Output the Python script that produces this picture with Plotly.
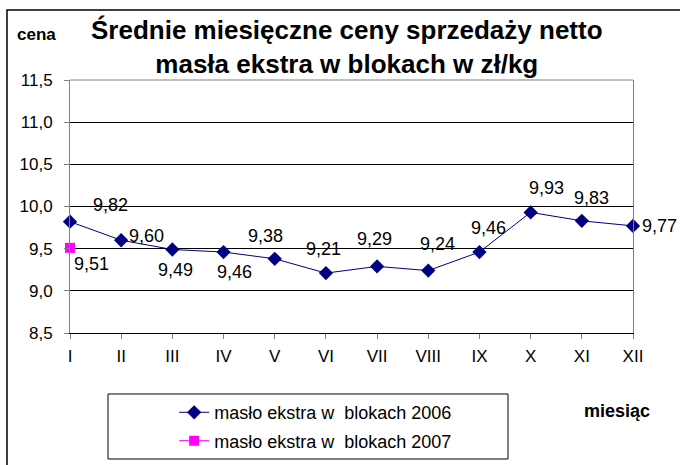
import plotly.graph_objects as go

miesiace = ["I", "II", "III", "IV", "V", "VI", "VII", "VIII", "IX", "X", "XI", "XII"]
ceny_2006 = [9.82, 9.60, 9.49, 9.46, 9.38, 9.21, 9.29, 9.24, 9.46, 9.93, 9.83, 9.77]
miesiace_2007 = ["I"]
ceny_2007 = [9.51]

# przesuniecia etykiet (px) wzgledem punktow
przes_2006 = [(40, 17), (25, 4), (3, -20), (11, -20), (-9, 23), (-2, 24),
              (-3, 27), (9, 27), (9, 24), (16, 24), (10, 23), (26, 0)]
przes_2007 = [(21, -16)]

FONT = "Liberation Sans, Arial, sans-serif"


def etykieta(v):
    return "{:.2f}".format(v).replace(".", ",")


fig = go.Figure()
fig.add_trace(go.Scatter(x=miesiace, y=ceny_2006, mode="lines+markers",
                         name="masło ekstra w  blokach 2006", legendgroup="a",
                         cliponaxis=False,
                         line=dict(color="#000080", width=1),
                         marker=dict(symbol="diamond", size=11, color="#000080")))
fig.add_trace(go.Scatter(x=miesiace_2007, y=ceny_2007, mode="lines+markers",
                         name="masło ekstra w  blokach 2007", legendgroup="b",
                         cliponaxis=False,
                         line=dict(color="#FF00FF", width=1),
                         marker=dict(symbol="square", size=10, color="#FF00FF")))

adnotacje = []
for m, v, (dx, dy) in zip(miesiace, ceny_2006, przes_2006):
    adnotacje.append(dict(x=m, y=v, text=etykieta(v), showarrow=False,
                          xshift=dx, yshift=dy, font=dict(size=18, color="black")))
for m, v, (dx, dy) in zip(miesiace_2007, ceny_2007, przes_2007):
    adnotacje.append(dict(x=m, y=v, text=etykieta(v), showarrow=False,
                          xshift=dx, yshift=dy, font=dict(size=18, color="black")))

adnotacje.append(dict(xref="paper", yref="paper", x=-0.060, y=1.178, text="<b>cena</b>",
                      xanchor="center", yanchor="middle",
                      showarrow=False, font=dict(size=17, color="black")))
adnotacje.append(dict(xref="paper", yref="paper", x=0.9716, y=-0.308, text="<b>miesiąc</b>",
                      xanchor="center", yanchor="middle",
                      showarrow=False, font=dict(size=18, color="black")))

ksztalty = [
    # ramka wykresu
    dict(type="rect", xref="paper", yref="paper", x0=-0.1119, x1=1.2, y0=-0.7, y1=1.2767,
         line=dict(color="black", width=1.5), layer="below"),
    # ramka legendy
    dict(type="rect", xref="paper", yref="paper", x0=0.0675, x1=0.778, y0=-0.498, y1=-0.241,
         line=dict(color="black", width=1)),
    # gorna krawedz obszaru
    dict(type="line", xref="paper", yref="paper", x0=0, x1=1, y0=1, y1=1,
         line=dict(color="#808080", width=1)),
]

fig.update_layout(
    width=680, height=465,
    margin=dict(l=70, r=47, t=80, b=132, autoexpand=False),
    paper_bgcolor="white", plot_bgcolor="white",
    font=dict(family=FONT, size=17, color="black"),
    separators=", ",
    title=dict(text="<b>Średnie miesięczne ceny sprzedaży netto<br>masła ekstra w blokach w zł/kg</b>",
               x=0.51, xanchor="center", y=0.916, yanchor="middle",
               font=dict(size=26, color="black")),
    xaxis=dict(type="category", range=[0, 11], showgrid=False,
               showline=True, linecolor="black", linewidth=1,
               ticks="outside", ticklen=5, tickcolor="#808080",
               ticklabelstandoff=3, tickfont=dict(size=17)),
    yaxis=dict(range=[8.5, 11.5], dtick=0.5, tickformat=".1f",
               showgrid=True, gridcolor="black", gridwidth=1, zeroline=False,
               showline=True, linecolor="#808080", linewidth=1, mirror=True,
               ticks="outside", ticklen=5, tickcolor="#808080",
               ticklabelstandoff=8, tickfont=dict(size=17)),
    legend=dict(x=0.185, y=-0.2415, xanchor="left", yanchor="top",
                bgcolor="rgba(0,0,0,0)", borderwidth=0, tracegroupgap=2,
                font=dict(size=18, color="black")),
    annotations=adnotacje,
    shapes=ksztalty,
)

fig.write_html("out.html", config={"displayModeBar": False},
               post_script="document.body.style.margin='0';document.body.style.overflow='hidden';")
